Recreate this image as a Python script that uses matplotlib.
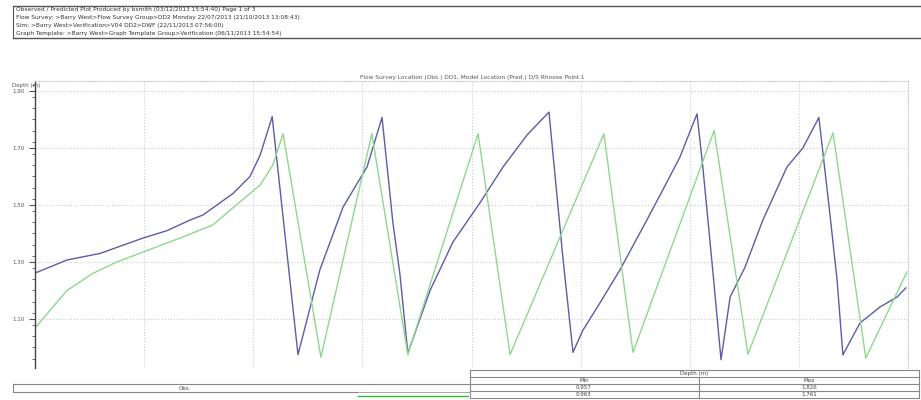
import numpy as np
import matplotlib.pyplot as plt
from matplotlib.ticker import MultipleLocator
from matplotlib.lines import Line2D

# observed (blue) and predicted (green) depth, time in hours
obs_t = [0.00, 0.88, 1.79, 2.97, 3.63, 4.26, 4.62, 5.44, 5.91, 6.19, 6.52,
         7.23, 7.83, 8.47, 9.13, 9.54, 9.84, 10.03, 10.25, 10.86, 11.49,
         12.23, 12.87, 13.53, 14.13, 14.51, 14.79, 15.06, 15.53, 16.08,
         16.82, 17.26, 17.73, 18.20, 18.36, 18.64, 18.86, 19.11, 19.52,
         20.01, 20.67, 21.11, 21.55, 21.85, 22.05, 22.21, 22.68, 23.23,
         23.70, 23.94]
obs_d = [1.261, 1.307, 1.330, 1.384, 1.410, 1.447, 1.465, 1.540, 1.600,
         1.675, 1.810, 0.975, 1.272, 1.493, 1.634, 1.807, 1.437, 1.260,
         0.980, 1.200, 1.370, 1.507, 1.634, 1.746, 1.826, 1.318, 0.983,
         1.060, 1.156, 1.272, 1.447, 1.553, 1.668, 1.820, 1.633, 1.260,
         0.957, 1.177, 1.282, 1.447, 1.633, 1.700, 1.807, 1.472, 1.237,
         0.974, 1.086, 1.142, 1.177, 1.209]

pred_t = [0.00, 0.41, 0.88, 1.59, 2.25, 2.97, 3.99, 4.89, 5.44, 6.19, 6.54,
          6.82, 7.86, 9.26, 10.25, 12.18, 13.06, 15.64, 16.44, 18.67, 19.60,
          21.94, 22.84, 23.97]
pred_d = [1.068, 1.130, 1.200, 1.260, 1.300, 1.335, 1.384, 1.430, 1.490,
          1.570, 1.640, 1.750, 0.966, 1.750, 0.975, 1.750, 0.975, 1.750,
          0.983, 1.761, 0.976, 1.753, 0.963, 1.265]

header = ["Observed / Predicted Plot Produced by bsmith (03/12/2013 15:54:40) Page 1 of 3",
          "Flow Survey: >Barry West>Flow Survey Group>DD2 Monday 22/07/2013 (21/10/2013 13:08:43)",
          "Sim: >Barry West>Verification>V04 DD2>DWF (22/11/2013 07:56:00)",
          "Graph Template: >Barry West>Graph Template Group>Verification (06/11/2013 15:54:54)"]
title = "Flow Survey Location (Obs.) DD1, Model Location (Pred.) D/S Rhoose Point.1"
stats = [("0.957", "1.826"), ("0.963", "1.761")]

W, H = 921, 400
fig = plt.figure(figsize=(W / 100, H / 100), dpi=100)

def fx(x):
    return x / W

def fy(y):
    return 1 - y / H

def hline(x0, x1, y, c="#888888", lw=0.8):
    fig.add_artist(Line2D([fx(x0), fx(x1)], [fy(y), fy(y)], color=c, lw=lw))

def vline(x, y0, y1, c="#888888", lw=0.8):
    fig.add_artist(Line2D([fx(x), fx(x)], [fy(y0), fy(y1)], color=c, lw=lw))

# header box
hline(13, 921, 6, c="#555555", lw=1.0)
hline(13, 921, 37.5, c="#555555", lw=1.0)
vline(13, 6, 37.5, c="#555555")
for i, s in enumerate(header):
    fig.text(fx(16), fy(10 + i * 7.8), s, fontsize=4.2, color="#333333", va="center")

# chart
ax = fig.add_axes([fx(35), fy(368), fx(908) - fx(35), fy(81) - fy(368)])
ax.plot(obs_t, obs_d, color="#5c5ca8", lw=1.0)
ax.plot(pred_t, pred_d, color="#8ed88e", lw=1.0)
ax.set_xlim(0, 24)
ax.set_ylim(0.928, 1.935)
ax.xaxis.set_major_locator(MultipleLocator(3))
ax.set_yticks([1.10, 1.30, 1.50, 1.70, 1.90])
ax.yaxis.set_minor_locator(MultipleLocator(0.04))
ax.set_yticklabels(["1.10", "1.30", "1.50", "1.70", "1.90"])
ax.tick_params(axis="y", labelsize=4, colors="#555555", length=4, width=0.8)
ax.tick_params(axis="y", which="minor", length=2, width=0.6, color="#555555")
ax.tick_params(axis="x", length=0, labelbottom=False)
ax.grid(True, color="#cccccc", ls=":", lw=0.8)
for s in ["top", "right"]:
    ax.spines[s].set_color("#cccccc")
    ax.spines[s].set_linestyle(":")
ax.spines["bottom"].set_visible(False)
ax.spines["left"].set_color("#444444")
ax.spines["left"].set_linewidth(1.0)

fig.text(fx(12), fy(85), "Depth (m)", fontsize=4, color="#555555", va="center")
fig.text(fx(472), fy(78), title, fontsize=4.2, color="#555555", ha="center", va="center")

# stats table
for y in [370, 377, 384, 391, 398]:
    hline(470, 919, y)
vline(470, 370, 398)
vline(919, 370, 398)
vline(699, 377, 398)
fig.text(fx(694), fy(373.5), "Depth (m)", fontsize=4, color="#444444", ha="center", va="center")
fig.text(fx(584), fy(380.5), "Min", fontsize=4, color="#444444", ha="center", va="center")
fig.text(fx(809), fy(380.5), "Max", fontsize=4, color="#444444", ha="center", va="center")
for i, (mn, mx) in enumerate(stats):
    fig.text(fx(584), fy(387.5 + 7 * i), mn, fontsize=4, color="#444444", ha="center", va="center")
    fig.text(fx(809), fy(387.5 + 7 * i), mx, fontsize=4, color="#444444", ha="center", va="center")

hline(13, 470, 384)
hline(13, 358, 391.5)
hline(358, 470, 391.5, c="#aaaaaa")
vline(13, 384, 391.5)
fig.text(fx(185), fy(388), "Obs.", fontsize=4, color="#444444", ha="center", va="center")
hline(358, 468, 396, c="#33bb33", lw=1.0)

fig.savefig("out.png", dpi=100)
